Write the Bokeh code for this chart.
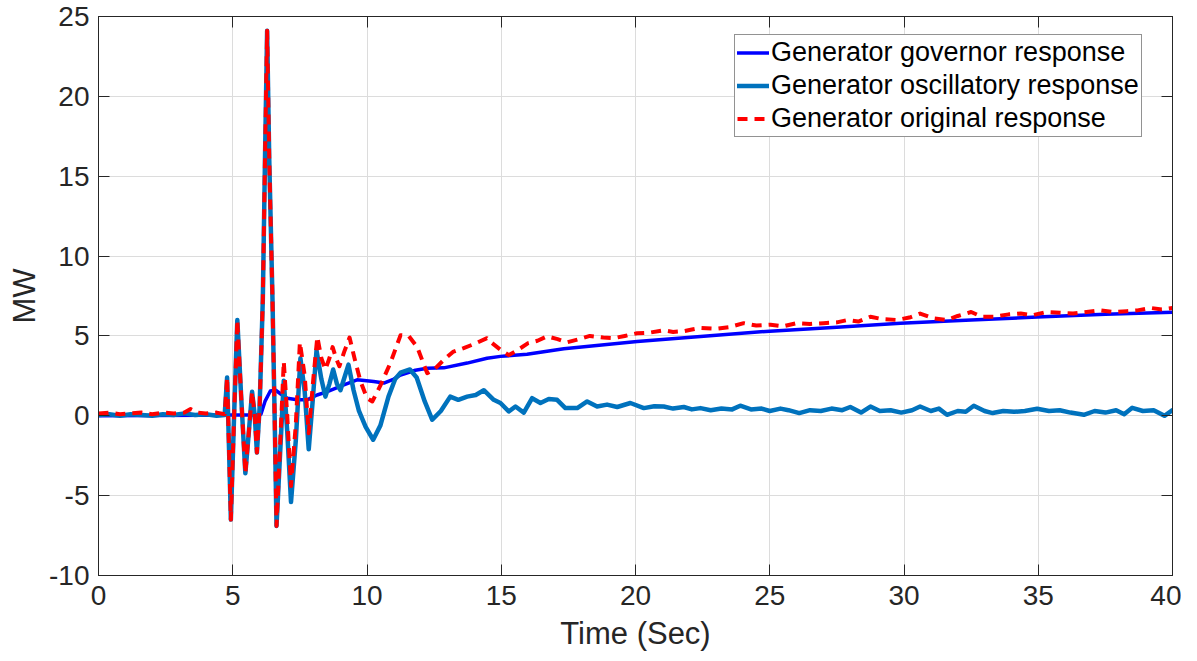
from bokeh.plotting import figure
from bokeh.models import Range1d, FixedTicker, LinearAxis, Legend, LegendItem
from bokeh.embed import file_html
from bokeh.resources import INLINE

# ---------------- data ----------------
t_gov = [0, 2, 4, 5, 5.8, 6.05, 6.2, 6.4, 6.6, 6.8,
         7.03, 7.4, 7.77, 8.14, 8.5, 9.14, 9.63, 10.25, 10.63, 11.0,
         11.25, 11.8, 12.24, 12.86, 13.73, 14.47, 14.97, 15.96, 17.33, 20.06,
         22.42, 25.0, 27.5, 29.87, 32.5, 34.96, 37.5, 40.0]
v_gov = [0.0, 0.02, 0.03, 0.05, 0.05, 0.1, 0.9, 1.55, 1.6, 1.35,
         1.1, 1.0, 1.0, 1.3, 1.5, 1.94, 2.25, 2.15, 2.05, 2.3,
         2.55, 2.85, 2.98, 3.0, 3.3, 3.6, 3.72, 3.85, 4.2, 4.65,
         4.97, 5.3, 5.55, 5.8, 6.0, 6.18, 6.35, 6.49]

t_osc = [0.0, 0.4, 0.8, 1.2, 1.6, 2.0, 2.4, 2.8, 3.2, 3.6, 4.0, 4.4, 4.7,
         4.79, 4.86, 4.93, 5.05, 5.17, 5.32, 5.47, 5.6, 5.72, 5.82,
         5.9, 6.0, 6.12, 6.2, 6.28, 6.36, 6.48, 6.56, 6.63, 6.76,
         6.9, 7.03, 7.17, 7.35, 7.52, 7.68, 7.83, 7.98, 8.12, 8.3,
         8.45, 8.6, 8.74, 8.88, 9.01, 9.16, 9.31, 9.5, 9.7, 9.95,
         10.23, 10.5, 10.8, 11.05, 11.25, 11.6, 11.85, 12.15, 12.43, 12.75,
         13.1, 13.4, 13.73, 14.05, 14.35, 14.72, 14.97, 15.28, 15.53, 15.84,
         16.15, 16.46, 16.77, 17.08, 17.39, 17.83, 18.2, 18.57, 18.94, 19.32,
         19.81, 20.31,
         20.7, 21.05, 21.4, 21.8, 22.1, 22.42, 22.8, 23.2, 23.6, 23.9,
         24.3, 24.7, 25.0, 25.4, 25.7, 26.1, 26.5, 26.9, 27.3, 27.7,
         28.0, 28.4, 28.75, 29.1, 29.5, 29.9, 30.3, 30.6, 31.0, 31.3,
         31.6, 32.0, 32.3, 32.6, 33.0, 33.3, 33.7, 34.1, 34.5, 34.96,
         35.4, 35.8, 36.2, 36.7, 37.1, 37.5, 37.9, 38.2, 38.5, 38.9,
         39.3, 39.7, 40.0]
v_osc = [0.05, 0.1, 0.0, 0.1, 0.05, 0.0, 0.1, 0.05, 0.15, 0.05, 0.1, 0.0, 0.05,
         2.4, -2.0, -6.5, 0.0, 6.0, 1.0, -3.6, -1.0, 1.5, 0.0,
         -2.3, 0.5, 7.3, 16.0, 24.1, 16.0, 7.3, 0.0, -6.9, -2.5,
         2.2, -1.0, -5.4, -1.5, 3.6, 1.5, -2.1, 1.0, 4.1, 2.3,
         1.2, 2.0, 2.9, 2.0, 1.6, 2.4, 3.2, 1.6, 0.3, -0.7,
         -1.5, -0.6, 1.2, 2.3, 2.7, 2.9, 2.4, 0.9, -0.25, 0.3,
         1.2, 1.0, 1.2, 1.3, 1.6, 1.0, 0.8, 0.27, 0.58, 0.2,
         1.1, 0.8, 1.05, 1.0, 0.48, 0.48, 0.9, 0.58, 0.7, 0.55,
         0.8, 0.48,
         0.6, 0.58, 0.45, 0.55, 0.4, 0.48, 0.35, 0.45, 0.4, 0.63,
         0.4, 0.45, 0.3, 0.45, 0.35, 0.17, 0.35, 0.3, 0.45, 0.35,
         0.55, 0.2, 0.58, 0.3, 0.35, 0.2, 0.35, 0.58, 0.3, 0.45,
         0.06, 0.3, 0.25, 0.63, 0.3, 0.17, 0.3, 0.25, 0.3, 0.44,
         0.3, 0.35, 0.2, 0.06, 0.3, 0.2, 0.35, 0.1, 0.5, 0.3,
         0.35, 0.0, 0.35]

t_orig = [0.0, 0.4, 0.8, 1.2, 1.6, 2.0, 2.4, 2.8, 3.2, 3.43, 3.7, 4.0, 4.4, 4.7,
          4.79, 4.86, 4.93, 5.05, 5.17, 5.32, 5.47, 5.6, 5.72, 5.82,
          5.9, 6.0, 6.12, 6.2, 6.28, 6.36, 6.48, 6.56, 6.63, 6.76,
          6.9, 7.03, 7.17, 7.35, 7.5, 7.68, 7.83, 8.0, 8.15, 8.3,
          8.45, 8.6, 8.72, 8.85, 8.97, 9.15, 9.35, 9.55, 9.75, 10.0,
          10.2, 10.5, 10.87, 11.25, 11.55, 11.87, 12.24, 12.5, 12.86, 13.2,
          13.6, 14.0, 14.47, 14.66, 15.0, 15.28, 15.6, 16.0, 16.35, 16.7,
          17.1, 17.45, 17.9, 18.3, 18.8, 19.2, 19.6, 20.06, 20.5, 21.05,
          21.4, 21.8, 22.1, 22.42, 23.0, 23.5, 24.03, 24.5, 25.03, 25.5,
          26.0, 26.5, 27.0, 27.5, 27.9, 28.3, 28.75, 29.2, 29.74, 30.2,
          30.6, 31.1, 31.6, 32.0, 32.5, 32.9, 33.35, 33.9, 34.35, 34.8,
          35.3, 35.8, 36.3, 36.8, 37.3, 37.8, 38.3, 38.7, 39.2, 39.6,
          40.0]
v_orig = [0.15, 0.2, 0.1, 0.15, 0.2, 0.1, 0.2, 0.15, 0.2, 0.42, 0.2, 0.15, 0.2, 0.1,
          2.4, -2.0, -6.5, 0.0, 6.0, 1.0, -3.6, -1.0, 1.5, 0.0,
          -2.3, 0.5, 7.3, 16.0, 24.1, 16.0, 7.3, 0.0, -6.9, -2.0,
          3.4, 0.0, -4.4, -0.5, 4.6, 2.5, -1.1, 2.3, 4.95, 3.6,
          2.9, 3.6, 4.3, 3.6, 3.1, 4.0, 4.9, 3.5, 2.2, 1.1,
          0.9, 1.9, 3.3, 5.05, 5.0, 4.3, 2.67, 2.9, 3.5, 4.0,
          4.24, 4.5, 4.86, 4.55, 4.1, 3.8, 4.1, 4.55, 4.7, 4.97,
          4.8, 4.6, 4.8, 5.0, 4.9, 4.86, 5.0, 5.17, 5.2, 5.35,
          5.25, 5.3, 5.4, 5.5, 5.45, 5.55, 5.8, 5.65, 5.7, 5.6,
          5.8, 5.75, 5.8, 5.85, 6.0, 5.9, 6.2, 6.05, 6.0, 6.15,
          6.4, 6.1, 6.0, 6.25, 6.5, 6.2, 6.2, 6.35, 6.4, 6.3,
          6.5, 6.45, 6.4, 6.5, 6.6, 6.5, 6.55, 6.6, 6.75, 6.65,
          6.75]

x_ticks = [0, 5, 10, 15, 20, 25, 30, 35, 40]
y_ticks = [-10, -5, 0, 5, 10, 15, 20, 25]
y_tick_text = ["-10", "-5", "0", "5", "10", "15", "20", "25"]
labels = ["Generator governor response",
          "Generator oscillatory response",
          "Generator original response"]

assert len(t_gov) == len(v_gov)
assert len(t_osc) == len(v_osc)
assert len(t_orig) == len(v_orig)

# ---------------- figure ----------------
FONT = "Liberation Sans"
AX = "#262626"

p = figure(width=1181, height=653, output_backend="svg", toolbar_location=None,
           x_range=Range1d(0, 40), y_range=Range1d(-10, 25),
           min_border_left=98, min_border_right=9, min_border_top=16,
           min_border_bottom=78, background_fill_color="white",
           border_fill_color="white")
p.outline_line_color = AX
p.outline_line_width = 1

xt = FixedTicker(ticks=x_ticks, minor_ticks=[])
yt = FixedTicker(ticks=y_ticks, minor_ticks=[])
p.xaxis.ticker = xt
p.yaxis.ticker = yt
p.xgrid.ticker = xt
p.ygrid.ticker = yt
for g in (p.xgrid, p.ygrid):
    g.grid_line_color = "#dcdcdc"
    g.grid_line_width = 1

for ax in (p.xaxis, p.yaxis):
    ax.axis_line_color = AX
    ax.major_tick_line_color = AX
    ax.major_tick_in = 11
    ax.major_tick_out = 0
    ax.minor_tick_line_color = None
    ax.major_label_text_font = FONT
    ax.major_label_text_font_size = "28px"
    ax.major_label_text_color = AX
    ax.axis_label_text_font = FONT
    ax.axis_label_text_font_size = "31px"
    ax.axis_label_text_font_style = "normal"
    ax.axis_label_text_color = AX

p.yaxis.major_label_overrides = dict(zip(y_ticks, y_tick_text))
p.xaxis.axis_label = "Time (Sec)"
p.yaxis.axis_label = "MW"
p.xaxis.major_label_standoff = 10
p.xaxis.axis_label_standoff = 8
p.yaxis.major_label_standoff = 9
p.yaxis.axis_label_standoff = 4

# inward ticks on top and right (box axes), without labels
blank_x = {t: "" for t in x_ticks}
blank_y = {t: "" for t in y_ticks}
top = LinearAxis(ticker=xt, major_label_overrides=blank_x,
                 major_label_text_font_size="1px", major_label_standoff=0,
                 axis_label_standoff=0,
                 major_tick_in=11, major_tick_out=0, axis_line_color=AX,
                 major_tick_line_color=AX, minor_tick_line_color=None)
right = LinearAxis(ticker=yt, major_label_overrides=blank_y,
                   major_label_text_font_size="1px", major_label_standoff=0,
                   axis_label_standoff=0,
                   major_tick_in=11, major_tick_out=0, axis_line_color=AX,
                   major_tick_line_color=AX, minor_tick_line_color=None)
p.add_layout(top, "above")
p.add_layout(right, "right")

r_gov = p.line(t_gov, v_gov, line_color="#0000ff", line_width=3.5,
               line_join="round", line_cap="round")
r_osc = p.line(t_osc, v_osc, line_color="#0072bd", line_width=4.5,
               line_join="round", line_cap="round")
r_orig = p.line(t_orig, v_orig, line_color="#ff0000", line_width=4,
                line_dash="10 7", line_join="round")

legend = Legend(items=[LegendItem(label=labels[0], renderers=[r_gov]),
                       LegendItem(label=labels[1], renderers=[r_osc]),
                       LegendItem(label=labels[2], renderers=[r_orig])],
                location=(636, 438), margin=0, padding=2, spacing=2,
                glyph_width=32, glyph_height=31, label_height=31,
                label_standoff=2, label_text_font=FONT,
                label_text_font_size="27px", label_text_color="#000000",
                border_line_color=AX, border_line_width=1,
                background_fill_color="white", background_fill_alpha=1)
p.add_layout(legend, "center")

open("out.html", "w").write(file_html(p, INLINE))
